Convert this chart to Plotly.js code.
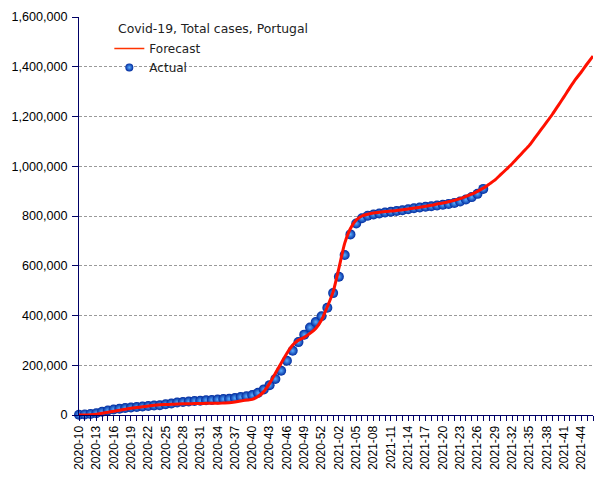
<!DOCTYPE html>
<html>
<head>
<meta charset="utf-8">
<script src="https://cdn.plot.ly/plotly-3.0.1.min.js"></script>
<style>html,body{margin:0;padding:0;background:#fff;}#chart{width:605px;height:480px;}</style>
</head>
<body>
<div id="chart"></div>
<script>
const weeks = [
"2020-10","2020-11","2020-12","2020-13","2020-14","2020-15","2020-16","2020-17","2020-18","2020-19",
"2020-20","2020-21","2020-22","2020-23","2020-24","2020-25","2020-26","2020-27","2020-28","2020-29",
"2020-30","2020-31","2020-32","2020-33","2020-34","2020-35","2020-36","2020-37","2020-38","2020-39",
"2020-40","2020-41","2020-42","2020-43","2020-44","2020-45","2020-46","2020-47","2020-48","2020-49",
"2020-50","2020-51","2020-52","2020-53","2021-01","2021-02","2021-03","2021-04","2021-05","2021-06",
"2021-07","2021-08","2021-09","2021-10","2021-11","2021-12","2021-13","2021-14","2021-15","2021-16",
"2021-17","2021-18","2021-19","2021-20","2021-21","2021-22","2021-23","2021-24","2021-25","2021-26",
"2021-27","2021-28","2021-29","2021-30","2021-31","2021-32","2021-33","2021-34","2021-35","2021-36",
"2021-37","2021-38","2021-39","2021-40","2021-41","2021-42","2021-43","2021-44","2021-45","2021-46"
];

const labelledWeeks = [
"2020-10","2020-13","2020-16","2020-19","2020-22","2020-25","2020-28","2020-31","2020-34","2020-37",
"2020-40","2020-43","2020-46","2020-49","2020-52","2021-02","2021-05","2021-08","2021-11","2021-14",
"2021-17","2021-20","2021-23","2021-26","2021-29","2021-32","2021-35","2021-38","2021-41","2021-44"
];

const actual = [
1000,2000,4000,7000,13000,18000,22000,25000,28000,30000,
32000,34000,36000,38000,39000,43000,46000,50000,52000,54000,
56000,57000,59000,60000,62000,64000,65000,68000,72000,75000,
80000,89000,103000,120000,145000,178000,218000,258000,293000,323000,
352000,374000,397000,431000,490000,556000,643000,726000,770000,791000,
801000,806000,810000,814000,817000,820000,823000,827000,831000,834000,
837000,839000,842000,845000,848000,852000,858000,866000,876000,889000,
909000
];

const forecast = [
0,0,1000,3000,7000,11000,15000,19000,23000,27000,
30000,33000,36000,39000,41000,42000,43000,44000,45000,45000,
46000,46000,47000,47000,47000,48000,49000,52000,56000,60000,
63000,74000,94000,127000,168000,208000,248000,281000,301000,312000,
328000,348000,382000,435000,495000,590000,690000,750000,784000,800000,
807000,812000,815000,818000,820000,822000,825000,828000,832000,835000,
839000,843000,848000,852000,857000,863000,870000,879000,888000,899000,
912000,928000,944000,966000,988000,1010000,1035000,1060000,1085000,1116000,
1147000,1178000,1210000,1245000,1280000,1316000,1350000,1380000,1412000,1443000
];

const chartTitle = "Covid-19, Total cases, Portugal";
const tickText = weeks.map(w => labelledWeeks.includes(w) ? w : "");

const navy = "#000066";
const red = "#ff1000";
const dotColor = "#002a9e";
const dotLight = "#5aaeff";

const traces = [
  {
    type: "scatter", mode: "markers", name: "Actual",
    x: weeks.slice(0, actual.length), y: actual,
    marker: {size: 10, color: dotColor, line: {width: 0},
             gradient: {type: "radial", color: dotLight}},
    cliponaxis: false, showlegend: false
  },
  {
    type: "scatter", mode: "lines", name: "Forecast",
    x: weeks, y: forecast,
    line: {color: red, width: 3, shape: "spline", smoothing: 0.6},
    cliponaxis: false, showlegend: false
  },
  {
    type: "scatter", mode: "lines", name: "Forecast",
    x: [null], y: [null],
    line: {color: "#ff3300", width: 1.5},
    showlegend: true, legendrank: 1
  },
  {
    type: "scatter", mode: "markers", name: "Actual",
    x: [null], y: [null],
    marker: {size: 8, color: dotColor, line: {width: 0},
             gradient: {type: "radial", color: dotLight}},
    showlegend: true, legendrank: 2
  }
];

const layout = {
  width: 605, height: 480,
  margin: {l: 79, r: 12, t: 17, b: 65},
  paper_bgcolor: "#ffffff", plot_bgcolor: "#ffffff",
  font: {family: "Liberation Sans, Arial, sans-serif", size: 12, color: "#000"},
  showlegend: true,
  legend: {
    x: 0.059, y: 0.9575, xanchor: "left", yanchor: "top",
    bgcolor: "rgba(0,0,0,0)", borderwidth: 0,
    font: {family: "DejaVu Sans", size: 12, color: "#222"},
    tracegroupgap: 0
  },
  annotations: [{
    text: chartTitle, xref: "paper", yref: "paper",
    x: 0.072, y: 0.97, xanchor: "left", yanchor: "middle", showarrow: false,
    font: {family: "DejaVu Sans", size: 12.4, color: "#222"}
  }],
  xaxis: {
    type: "category", range: [0, weeks.length - 1],
    tickmode: "array", tickvals: weeks, ticktext: tickText,
    tickangle: -90, ticks: "outside", ticklen: 5, tickcolor: navy, tickwidth: 1,
    showline: true, linecolor: navy, linewidth: 1,
    showgrid: false, zeroline: false,
    tickfont: {family: "Liberation Sans", size: 12, color: "#000"}
  },
  yaxis: {
    range: [0, 1600000], dtick: 200000, tick0: 0,
    tickformat: ",d", ticks: "outside", ticklen: 6, tickcolor: navy,
    ticklabelstandoff: 2,
    showline: true, linecolor: navy, linewidth: 1,
    showgrid: true, gridcolor: "#9a9a9a", griddash: "3px,2px", gridwidth: 1,
    zeroline: false,
    tickfont: {family: "Liberation Sans", size: 12.6, color: "#000"}
  }
};

Plotly.newPlot("chart", traces, layout, {displayModeBar: false, staticPlot: true});
</script>
</body>
</html>
